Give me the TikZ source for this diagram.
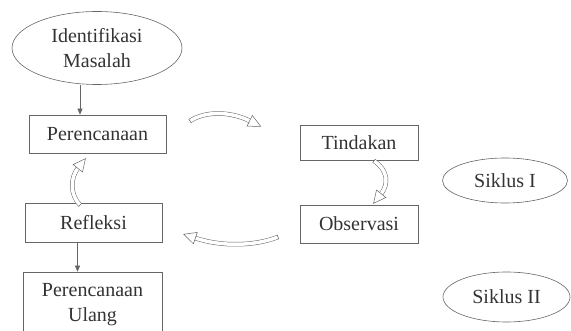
\documentclass[tikz,border=0pt]{standalone}
\usepackage{fontspec}
\setmainfont{Liberation Serif}
\usetikzlibrary{
    arrows.meta,
    shapes.geometric,
    decorations.markings
}
\tikzset{
    % Colors
    line color/.style={black!60},
    label color/.style={text=black!80},
    %
    % Nodes
    stage/.style={draw,line color,label color,line width=.6pt,minimum width=137pt,minimum height=38pt,inner sep=0pt,align=center,font=\fontsize{20}{25}\selectfont},
    cycle oval/.style={stage,ellipse},
    %
    % Arrows
    arrow tip/.tip={Triangle[length=6pt,width=5pt]},
    arr/.style={line color,line width=.6pt,-{arrow tip}},
    band/.style={line color,line width=.5pt,double=white,double distance=3.5pt,postaction=decorate,
        decoration={markings,
            mark=at position 0 with {\draw[line color,line width=.5pt] (0,-2.25pt) -- (0,2.25pt);},
            mark=at position 0.999 with {\draw[line color,line width=.5pt,fill=white] (-.3pt,-6pt) -- (12pt,0) -- (-.3pt,6pt) -- cycle;}}}
}

\begin{document}
\begin{tikzpicture}[x=1pt,y=-1pt]
    \useasboundingbox (0,0) rectangle (571,331);
    \clip (0,0) rectangle (571,331);
    % left column
    \node[cycle oval,minimum width=170pt,minimum height=73pt] (ident) at (97,48) {Identifikasi\\Masalah};
    \node[stage] (per) at (97.5,134) {Perencanaan};
    \node[stage,minimum height=39pt] (ref) at (93.5,222.5) {Refleksi};
    \node[stage,minimum width=139pt,minimum height=66pt] (ulang) at (92.5,305) {Perencanaan\\Ulang};
    % right column
    \node[stage,minimum width=118pt,minimum height=35pt] (tin) at (359,142.5) {Tindakan};
    \node[stage,minimum width=118pt] (obs) at (359,224) {Observasi};
    \node[cycle oval,minimum width=125pt,minimum height=45pt] (s1) at (505,180.5) {Siklus I};
    \node[cycle oval,minimum width=127pt,minimum height=50pt] (s2) at (506.5,297) {Siklus II};
    % straight arrows
    \draw[arr] ([xshift=-17pt]ident.south) -- ([xshift=-17pt]ident.south |- per.north);
    \draw[arr] ([xshift=-16pt]ref.south) -- ([xshift=-16pt]ref.south |- ulang.north);
    % curved block arrows
    \coordinate (top a) at (190,121);
    \coordinate (top b) at (250,121);
    \coordinate (bot a) at (278,237);
    \coordinate (bot b) at (195,238);
    \coordinate (left a) at (80,205);
    \coordinate (left b) at (78,168);
    \coordinate (right a) at (374,161);
    \coordinate (right b) at (381,194);
    \draw[band] (top a) .. controls (205,111) and (230,111) .. (top b);
    \draw[band] (bot a) .. controls (255,246) and (222,247) .. (bot b);
    \draw[band] (left a) .. controls (70,195) and (70,178) .. (left b);
    \draw[band] (right a) .. controls (388,170) and (389,184) .. (right b);
\end{tikzpicture}
\end{document}
